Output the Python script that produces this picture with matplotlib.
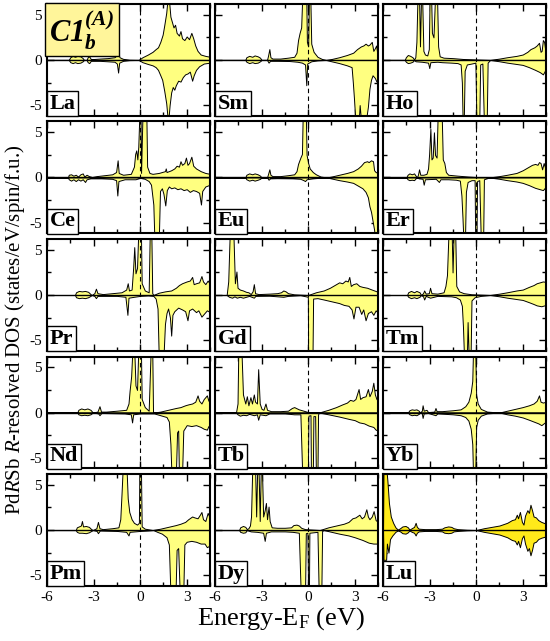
import matplotlib
matplotlib.use("Agg")
import matplotlib.pyplot as plt
from matplotlib.ticker import MultipleLocator

plt.rcParams["font.family"] = ["Liberation Serif", "DejaVu Serif"]
plt.rcParams["mathtext.fontset"] = "custom"
plt.rcParams["mathtext.rm"] = "Liberation Serif"
plt.rcParams["mathtext.it"] = "Liberation Serif:italic"
plt.rcParams["mathtext.bf"] = "Liberation Serif:bold:italic"
plt.rcParams["axes.unicode_minus"] = False

# (energy in eV, DOS) break points; up = spin up, dn = spin down
LA_UP = [(-6.0, 0), (-4.6, 0), (-4.5, 0.3), (-4.35, 0.45), (-4.2, 0.35), (-4.05, 0.45), (-3.85, 0.4), (-3.7, 0.2), (-3.62, 0), (-3.45, 0), (-3.38, 0.3), (-3.28, 0.4), (-3.18, 0.1), (-3.0, 0.1), (-2.6, 0.15), (-2.1, 0.2), (-1.65, 0.3), (-1.5, 0.55), (-1.42, 0.9), (-1.33, 0.3), (-1.1, 0.12), (-0.7, 0.02), (-0.1, 0), (0.15, 0.3), (0.5, 0.6), (0.8, 0.9), (1.0, 1.2), (1.15, 1.4), (1.3, 2.0), (1.45, 2.8), (1.55, 3.8), (1.68, 5.2), (1.78, 7.0), (1.88, 6.2), (1.95, 4.8), (2.05, 4.2), (2.15, 3.6), (2.25, 3.9), (2.35, 3.0), (2.5, 2.7), (2.6, 3.2), (2.7, 2.4), (2.85, 2.2), (3.0, 2.6), (3.15, 2.3), (3.3, 3.0), (3.42, 2.4), (3.55, 1.6), (3.7, 1.0), (3.9, 0.6), (4.2, 0.45), (4.5, 0.35)]
LA_DN = [(-6.0, 0), (-4.6, 0), (-4.5, -0.25), (-4.35, -0.35), (-4.2, -0.25), (-4.05, -0.35), (-3.85, -0.3), (-3.7, -0.15), (-3.62, 0), (-3.45, 0), (-3.38, -0.25), (-3.28, -0.35), (-3.18, -0.1), (-3.0, -0.1), (-2.6, -0.1), (-2.1, -0.15), (-1.65, -0.2), (-1.5, -0.4), (-1.42, -1.4), (-1.35, -0.3), (-1.1, -0.1), (-0.7, -0.02), (-0.1, 0), (0.15, -0.25), (0.5, -0.45), (0.8, -0.6), (1.0, -0.8), (1.15, -1.1), (1.3, -1.7), (1.42, -2.2), (1.55, -3.4), (1.68, -4.8), (1.8, -7.0), (1.9, -5.0), (2.0, -3.6), (2.1, -3.0), (2.2, -3.3), (2.3, -2.8), (2.45, -2.3), (2.6, -2.4), (2.75, -1.9), (2.9, -1.6), (3.05, -1.5), (3.2, -1.3), (3.35, -2.3), (3.45, -1.7), (3.6, -1.1), (3.8, -0.7), (4.1, -0.4), (4.5, -0.3)]

SM_UP = [(-6, 0), (-4.05, 0), (-3.98, 0.3), (-3.8, 0.45), (-3.6, 0.35), (-3.45, 0.5), (-3.25, 0.4), (-3.1, 0.25), (-3.0, 0), (-2.65, 0), (-2.58, 0.5), (-2.5, 1.2), (-2.43, 0.3), (-2.3, 0.15), (-1.8, 0.15), (-1.3, 0.25), (-0.9, 0.35), (-0.75, 0.8), (-0.65, 2.2), (-0.55, 3.0), (-0.45, 3.6), (-0.38, 7), (-0.12, 7), (-0.08, 2.0), (0.0, 1.5), (0.05, 7), (0.14, 7), (0.2, 1.8), (0.35, 0.9), (0.6, 0.35), (0.9, 0.1), (1.15, 0), (1.5, 0.1), (2.0, 0.3), (2.5, 0.55), (2.9, 0.8), (3.15, 1.2), (3.4, 1.5), (3.55, 1.6), (3.7, 1.8), (3.85, 1.6), (3.95, 1.7), (4.1, 2.0), (4.2, 1.0), (4.3, 1.3), (4.38, 1.6), (4.45, 0.8), (4.5, 0.6)]
SM_DN = [(-6, 0), (-4.05, 0), (-3.98, -0.2), (-3.8, -0.35), (-3.6, -0.25), (-3.45, -0.35), (-3.25, -0.3), (-3.1, -0.15), (-3.0, 0), (-2.65, 0), (-2.55, -0.3), (-2.45, -0.1), (-2.0, -0.1), (-1.2, -0.12), (-0.7, -0.2), (-0.4, -0.3), (-0.2, -0.5), (-0.12, -2.8), (-0.06, -0.4), (0.2, -0.15), (0.6, -0.05), (1.15, 0), (1.5, -0.15), (2.0, -0.35), (2.5, -0.6), (2.8, -0.8), (2.88, -2.5), (2.95, -4.2), (3.05, -7), (3.25, -7), (3.32, -5.0), (3.42, -7), (3.7, -7), (3.85, -5.2), (3.95, -3.2), (4.05, -2.2), (4.15, -1.7), (4.3, -2.0), (4.4, -2.4), (4.5, -1.9)]

HO_UP = [(-6, 0), (-4.6, 0), (-4.53, 0.3), (-4.4, 0.55), (-4.25, 0.45), (-4.1, 0.3), (-4.0, 0.05), (-3.92, 0.3), (-3.85, 2.0), (-3.78, 7), (-3.68, 7), (-3.62, 1.5), (-3.55, 7), (-3.48, 7), (-3.4, 1.0), (-3.3, 0.6), (-3.15, 0.5), (-3.05, 1.2), (-3.0, 7), (-2.9, 7), (-2.85, 3.0), (-2.75, 2.5), (-2.65, 7), (-2.52, 7), (-2.45, 1.5), (-2.35, 0.4), (-2.1, 0.25), (-1.5, 0.2), (-0.8, 0.1), (0.0, 0.05), (0.9, 0), (1.5, 0.15), (2.0, 0.3), (2.6, 0.45), (3.0, 0.6), (3.3, 0.9), (3.5, 1.2), (3.75, 1.4), (3.9, 1.6), (4.05, 1.9), (4.15, 0.9), (4.22, 1.0), (4.3, 2.2), (4.38, 2.0), (4.45, 1.1), (4.5, 0.9)]
HO_DN = [(-6, 0), (-4.6, 0), (-4.53, -0.2), (-4.4, -0.35), (-4.25, -0.3), (-4.1, -0.2), (-4.0, 0), (-3.9, -0.15), (-3.5, -0.2), (-3.1, -0.3), (-3.02, -0.9), (-2.95, -0.25), (-2.5, -0.2), (-2.2, -0.25), (-1.6, -0.3), (-1.2, -0.35), (-1.0, -0.5), (-0.92, -2.5), (-0.87, -7), (-0.8, -7), (-0.74, -1.2), (-0.6, -0.5), (-0.3, -0.4), (-0.05, -0.3), (0.02, -7), (0.2, -7), (0.26, -0.5), (0.4, -0.4), (0.5, -7), (0.68, -7), (0.74, -0.3), (0.9, 0), (1.5, -0.15), (2.0, -0.3), (2.6, -0.45), (3.0, -0.55), (3.4, -0.8), (3.8, -1.1), (4.1, -1.35), (4.3, -1.6), (4.4, -1.3), (4.5, -0.9)]

CE_UP = [(-6, 0), (-4.65, 0), (-4.6, 0.3), (-4.45, 0.35), (-4.3, 0.2), (-4.15, 0.3), (-4.0, 0.1), (-3.85, 0.35), (-3.7, 0.45), (-3.6, 0.1), (-3.45, 0.3), (-3.3, 0.15), (-3.1, 0.05), (-2.8, 0.15), (-2.3, 0.25), (-1.8, 0.35), (-1.55, 0.6), (-1.45, 1.9), (-1.38, 0.5), (-1.1, 0.3), (-0.6, 0.4), (-0.4, 1.2), (-0.32, 2.6), (-0.25, 3.0), (-0.18, 2.0), (-0.12, 3.4), (-0.05, 7), (0.02, 7), (0.06, 0.5), (0.15, 7), (0.4, 7), (0.45, 1.2), (0.6, 0.5), (0.8, 0.4), (1.2, 0.5), (1.6, 0.7), (1.65, 1.0), (1.7, 0.6), (2.0, 0.8), (2.2, 1.0), (2.35, 1.3), (2.5, 1.2), (2.6, 1.8), (2.7, 1.4), (2.85, 1.6), (2.95, 2.2), (3.05, 1.4), (3.15, 1.6), (3.3, 2.3), (3.42, 1.3), (3.6, 1.0), (3.9, 0.7), (4.2, 0.5), (4.5, 0.4)]
CE_DN = [(-6, 0), (-4.65, 0), (-4.6, -0.2), (-4.45, -0.35), (-4.3, -0.2), (-4.15, -0.4), (-4.0, -0.2), (-3.85, -0.35), (-3.7, -0.2), (-3.55, -0.5), (-3.45, -0.2), (-3.2, -0.1), (-2.5, -0.1), (-1.8, -0.15), (-1.55, -0.3), (-1.47, -2.0), (-1.4, -0.4), (-1.0, -0.2), (-0.3, -0.2), (0.0, -0.05), (0.3, -0.15), (0.55, -0.4), (0.7, -0.8), (0.85, -3.0), (0.92, -7), (1.2, -7), (1.28, -1.5), (1.4, -1.2), (1.5, -1.8), (1.62, -3.1), (1.72, -1.4), (1.85, -1.0), (2.0, -1.2), (2.2, -1.1), (2.4, -1.3), (2.6, -1.2), (2.8, -1.4), (3.0, -1.3), (3.2, -1.6), (3.4, -1.4), (3.6, -1.5), (3.8, -1.7), (3.92, -3.0), (4.0, -1.5), (4.2, -1.0), (4.5, -0.8)]

EU_UP = [(-6, 0), (-4.05, 0), (-3.98, 0.3), (-3.8, 0.45), (-3.6, 0.35), (-3.45, 0.45), (-3.25, 0.35), (-3.1, 0.2), (-3.0, 0), (-2.65, 0), (-2.58, 0.4), (-2.5, 0.9), (-2.43, 0.3), (-2.3, 0.15), (-1.8, 0.15), (-1.3, 0.25), (-0.9, 0.35), (-0.75, 0.7), (-0.65, 1.5), (-0.5, 2.2), (-0.4, 2.6), (-0.35, 7), (-0.15, 7), (-0.1, 2.5), (0.0, 1.6), (0.1, 1.0), (0.3, 0.6), (0.5, 0.35), (0.8, 0.1), (1.2, 0), (1.5, 0.1), (2.0, 0.3), (2.5, 0.5), (2.9, 0.7), (3.2, 1.0), (3.4, 1.3), (3.6, 1.7), (3.8, 1.8), (3.9, 1.7), (4.05, 1.9), (4.18, 1.8), (4.25, 0.8), (4.35, 0.6), (4.5, 0.5)]
EU_DN = [(-6, 0), (-4.05, 0), (-3.98, -0.2), (-3.8, -0.35), (-3.6, -0.25), (-3.45, -0.35), (-3.25, -0.25), (-3.1, -0.15), (-3.0, 0), (-2.65, 0), (-2.55, -0.25), (-2.45, -0.1), (-2.0, -0.08), (-1.0, -0.1), (-0.5, -0.15), (-0.3, -0.3), (-0.2, -0.4), (-0.1, -0.2), (0.3, -0.1), (0.8, -0.03), (1.2, 0), (1.6, -0.15), (2.0, -0.3), (2.5, -0.45), (2.9, -0.6), (3.2, -0.9), (3.5, -1.2), (3.7, -1.6), (3.85, -2.2), (3.95, -3.2), (4.05, -3.8), (4.15, -4.8), (4.25, -5.8), (4.32, -7), (4.5, -7)]

ER_UP = [(-6, 0), (-4.5, 0), (-4.42, 0.3), (-4.3, 0.45), (-4.15, 0.35), (-4.0, 0.45), (-3.9, 0.2), (-3.82, 0), (-3.75, 0.3), (-3.68, 0.9), (-3.6, 0.3), (-3.4, 0.3), (-3.2, 0.4), (-3.1, 1.0), (-3.03, 2.6), (-2.95, 5.4), (-2.88, 2.0), (-2.8, 2.2), (-2.72, 5.0), (-2.65, 2.5), (-2.55, 2.2), (-2.48, 7), (-2.22, 7), (-2.15, 2.0), (-2.05, 1.6), (-1.95, 0.6), (-1.8, 0.3), (-1.2, 0.2), (-0.5, 0.1), (0.0, 0.05), (0.85, 0), (1.5, 0.15), (2.0, 0.3), (2.6, 0.5), (3.0, 0.8), (3.4, 1.2), (3.6, 1.4), (3.8, 1.5), (3.95, 1.4), (4.05, 1.7), (4.15, 1.6), (4.25, 0.9), (4.35, 1.6), (4.42, 1.2), (4.5, 1.0)]
ER_DN = [(-6, 0), (-4.5, 0), (-4.42, -0.2), (-4.3, -0.3), (-4.15, -0.25), (-4.0, -0.3), (-3.9, -0.1), (-3.82, 0), (-3.7, -0.1), (-3.45, -0.15), (-3.38, -0.8), (-3.3, -0.2), (-2.6, -0.15), (-2.4, -0.5), (-2.3, -0.2), (-1.8, -0.2), (-1.3, -0.25), (-1.05, -0.35), (-0.95, -2.0), (-0.88, -4.5), (-0.82, -7), (-0.72, -7), (-0.66, -1.6), (-0.55, -0.5), (-0.3, -0.3), (-0.1, -0.3), (-0.06, -7), (0.02, -7), (0.06, -0.4), (0.2, -0.3), (0.3, -7), (0.45, -7), (0.5, -0.2), (0.85, 0), (1.5, -0.15), (2.0, -0.3), (2.6, -0.45), (3.0, -0.6), (3.4, -0.85), (3.8, -1.15), (4.1, -1.3), (4.3, -1.4), (4.5, -1.0)]

PR_UP = [(-6, 0), (-4.2, 0), (-4.13, 0.3), (-3.95, 0.45), (-3.75, 0.4), (-3.55, 0.45), (-3.35, 0.35), (-3.2, 0.1), (-3.12, 0), (-2.95, 0.2), (-2.85, 0.7), (-2.75, 0.2), (-2.4, 0.1), (-1.8, 0.2), (-1.2, 0.3), (-0.9, 0.6), (-0.8, 1.3), (-0.72, 0.5), (-0.55, 0.6), (-0.45, 3.0), (-0.38, 5.3), (-0.3, 2.4), (-0.2, 3.0), (-0.12, 7), (0.05, 7), (0.1, 1.3), (0.3, 0.5), (0.55, 0.3), (0.62, 7), (0.72, 7), (0.78, 0.2), (0.85, 0), (1.2, 0.25), (1.6, 0.4), (2.0, 0.5), (2.3, 0.8), (2.5, 1.1), (2.7, 1.3), (2.85, 1.4), (3.0, 1.5), (3.2, 1.6), (3.35, 2.0), (3.45, 1.2), (3.6, 1.3), (3.8, 1.4), (3.95, 2.1), (4.05, 1.5), (4.2, 1.2), (4.35, 1.6), (4.5, 1.2)]
PR_DN = [(-6, 0), (-4.2, 0), (-4.13, -0.25), (-3.95, -0.35), (-3.75, -0.3), (-3.55, -0.35), (-3.35, -0.25), (-3.2, -0.1), (-3.12, 0), (-2.95, -0.1), (-2.85, -0.35), (-2.75, -0.1), (-1.5, -0.1), (-0.95, -0.2), (-0.82, -2.2), (-0.75, -0.3), (-0.4, -0.2), (0.0, -0.1), (0.5, -0.05), (0.85, -0.1), (1.0, -0.4), (1.12, -1.5), (1.2, -7), (1.5, -7), (1.6, -3.2), (1.7, -2.0), (1.8, -1.5), (1.92, -2.5), (2.0, -4.5), (2.08, -2.2), (2.2, -1.8), (2.45, -1.4), (2.7, -1.6), (2.9, -1.8), (3.05, -2.8), (3.15, -1.7), (3.35, -1.5), (3.6, -1.9), (3.75, -1.7), (3.95, -2.4), (4.15, -2.0), (4.3, -1.7), (4.5, -1.9)]

GD_UP = [(-6, 0), (-5.25, 0), (-5.15, 1.5), (-5.05, 7), (-4.82, 7), (-4.72, 1.3), (-4.62, 2.6), (-4.55, 0.8), (-4.4, 0.6), (-4.2, 0.5), (-4.0, 0.35), (-3.85, 0.3), (-3.7, 0.1), (-3.58, 0.4), (-3.5, 1.2), (-3.42, 0.2), (-3.2, 0.1), (-2.5, 0.15), (-2.0, 0.2), (-1.75, 0.3), (-1.6, 0.5), (-1.45, 0.4), (-1.3, 0.2), (-0.9, 0.07), (-0.3, 0.02), (0.0, 0), (0.5, 0.3), (1.0, 0.5), (1.4, 0.8), (1.7, 1.1), (2.0, 1.4), (2.2, 1.3), (2.4, 1.6), (2.55, 1.5), (2.65, 2.0), (2.75, 1.0), (2.9, 1.2), (3.1, 1.3), (3.3, 1.0), (3.5, 0.9), (3.8, 0.8), (4.1, 0.6), (4.5, 0.35)]
GD_DN = [(-6, 0), (-5.25, 0), (-5.1, -0.2), (-4.9, -0.3), (-4.75, -0.15), (-4.6, -0.3), (-4.4, -0.2), (-4.2, -0.3), (-4.0, -0.2), (-3.8, -0.1), (-3.5, -0.3), (-3.4, -0.1), (-2.5, -0.08), (-1.6, -0.2), (-1.3, -0.1), (-0.5, -0.02), (-0.02, -0.2), (0.0, -7), (0.28, -7), (0.32, -0.4), (0.6, -0.35), (1.0, -0.5), (1.5, -0.7), (2.0, -0.9), (2.3, -1.1), (2.6, -1.2), (2.8, -1.6), (2.92, -2.6), (3.05, -1.3), (3.25, -1.3), (3.42, -2.1), (3.55, -1.6), (3.7, -2.8), (3.85, -2.0), (4.05, -1.8), (4.2, -2.2), (4.35, -1.7), (4.5, -2.0)]

TM_UP = [(-6, 0), (-4.45, 0), (-4.38, 0.3), (-4.2, 0.45), (-4.0, 0.3), (-3.85, 0.45), (-3.65, 0.3), (-3.55, 0), (-3.42, 0.2), (-3.35, 0.5), (-3.25, 0.15), (-3.05, 0.2), (-2.97, 0.8), (-2.88, 0.2), (-2.5, 0.15), (-2.1, 0.3), (-1.98, 1.0), (-1.88, 2.2), (-1.78, 7), (-1.58, 7), (-1.52, 2.5), (-1.45, 7), (-1.35, 7), (-1.28, 1.0), (-1.1, 0.4), (-0.8, 0.2), (-0.3, 0.08), (0.9, 0), (1.5, 0.15), (2.0, 0.3), (2.6, 0.5), (3.0, 0.6), (3.4, 0.9), (3.7, 1.1), (3.9, 1.3), (4.1, 1.4), (4.3, 1.5), (4.5, 1.45)]
TM_DN = [(-6, 0), (-4.45, 0), (-4.38, -0.2), (-4.2, -0.35), (-4.0, -0.25), (-3.85, -0.35), (-3.65, -0.2), (-3.55, 0), (-3.42, -0.15), (-3.35, -0.5), (-3.25, -0.1), (-2.97, -0.3), (-2.5, -0.1), (-1.6, -0.15), (-1.3, -0.25), (-1.05, -0.5), (-0.92, -1.2), (-0.85, -3.5), (-0.78, -7), (-0.6, -7), (-0.55, -3.0), (-0.48, -7), (-0.36, -7), (-0.3, -0.6), (-0.1, -0.25), (0.3, -0.1), (0.9, 0), (1.5, -0.15), (2.0, -0.3), (2.6, -0.45), (3.0, -0.55), (3.4, -0.8), (3.7, -1.0), (3.9, -1.15), (4.2, -1.25), (4.5, -1.1)]

ND_UP = [(-6, 0), (-4.05, 0), (-3.98, 0.3), (-3.8, 0.45), (-3.6, 0.35), (-3.4, 0.45), (-3.2, 0.3), (-3.05, 0), (-2.75, 0.1), (-2.62, 0.7), (-2.52, 0.1), (-2.2, 0.1), (-1.5, 0.2), (-0.9, 0.3), (-0.75, 1.0), (-0.68, 2.4), (-0.58, 4.0), (-0.5, 7), (-0.38, 7), (-0.3, 3.0), (-0.2, 2.5), (-0.12, 7), (0.05, 7), (0.1, 1.5), (0.3, 0.6), (0.55, 0.2), (0.68, 7), (0.78, 7), (0.83, 0.1), (0.9, 0), (1.3, 0.1), (1.8, 0.3), (2.3, 0.5), (2.6, 0.6), (2.9, 0.8), (3.1, 0.9), (3.35, 1.0), (3.55, 1.2), (3.7, 1.9), (3.8, 1.3), (3.95, 1.0), (4.1, 1.5), (4.3, 1.9), (4.4, 1.3), (4.5, 1.6)]
ND_DN = [(-6, 0), (-4.05, 0), (-3.98, -0.2), (-3.8, -0.3), (-3.6, -0.25), (-3.4, -0.3), (-3.2, -0.2), (-3.05, 0), (-2.7, -0.1), (-2.62, -0.3), (-2.5, -0.05), (-1.0, -0.1), (-0.6, -0.2), (-0.52, -1.1), (-0.45, -0.2), (0.0, -0.1), (0.9, -0.1), (1.3, -0.3), (1.7, -0.5), (1.85, -1.0), (1.95, -3.5), (2.02, -7), (2.3, -7), (2.38, -2.2), (2.45, -2.0), (2.5, -7), (2.7, -7), (2.78, -2.0), (3.0, -1.4), (3.3, -1.5), (3.6, -1.4), (3.9, -1.6), (4.1, -1.8), (4.3, -1.9), (4.4, -1.5), (4.5, -1.7)]

TB_UP = [(-6, 0), (-4.65, 0), (-4.55, 1.0), (-4.5, 7), (-4.3, 7), (-4.2, 2.0), (-4.05, 1.0), (-3.95, 1.8), (-3.85, 0.8), (-3.72, 1.7), (-3.62, 1.0), (-3.5, 2.0), (-3.42, 1.2), (-3.3, 1.0), (-3.22, 4.8), (-3.12, 1.0), (-3.0, 0.4), (-2.88, 0.3), (-2.75, 1.0), (-2.65, 0.3), (-2.4, 0.15), (-1.8, 0.15), (-1.3, 0.2), (-1.05, 0.5), (-0.9, 0.6), (-0.6, 0.35), (-0.3, 0.2), (0.0, 0.05), (0.7, 0), (1.3, 0.3), (1.8, 0.6), (2.2, 0.9), (2.5, 1.1), (2.7, 1.4), (2.9, 1.3), (3.05, 1.5), (3.25, 2.6), (3.35, 1.5), (3.5, 1.7), (3.7, 1.8), (3.85, 2.6), (3.95, 1.8), (4.1, 2.4), (4.2, 3.3), (4.3, 2.0), (4.4, 1.5), (4.5, 1.3)]
TB_DN = [(-6, 0), (-4.65, 0), (-4.55, -0.2), (-4.4, -0.35), (-4.2, -0.25), (-4.0, -0.3), (-3.8, -0.15), (-3.5, -0.3), (-3.3, -0.2), (-3.22, -0.8), (-3.12, -0.2), (-2.75, -0.3), (-2.5, -0.1), (-1.5, -0.1), (-0.9, -0.2), (-0.5, -0.2), (-0.38, -7), (-0.02, -7), (0.02, -0.35), (0.15, -0.3), (0.18, -7), (0.3, -7), (0.34, -0.4), (0.45, -0.4), (0.5, -7), (0.6, -7), (0.64, -0.2), (0.7, 0), (1.3, -0.2), (2.0, -0.45), (2.6, -0.7), (3.0, -0.85), (3.3, -1.1), (3.6, -1.2), (3.9, -1.45), (4.2, -1.6), (4.35, -1.9), (4.5, -2.0)]

YB_UP = [(-6, 0), (-4.4, 0), (-4.3, 0.25), (-4.15, 0.35), (-4.0, 0.3), (-3.85, 0.35), (-3.7, 0.2), (-3.62, 0), (-3.5, 0.2), (-3.45, 0.8), (-3.38, 0.2), (-3.2, 0.3), (-3.1, 0.05), (-2.7, 0.1), (-2.62, 0.5), (-2.55, 0.15), (-2.2, 0.15), (-1.5, 0.25), (-1.0, 0.35), (-0.7, 0.7), (-0.5, 1.2), (-0.35, 2.2), (-0.25, 3.5), (-0.2, 7), (-0.06, 7), (0.0, 2.0), (0.1, 1.0), (0.3, 0.4), (0.7, 0.1), (1.5, 0), (2.0, 0.2), (2.5, 0.4), (3.0, 0.6), (3.4, 0.8), (3.7, 1.0), (3.9, 1.3), (4.05, 1.9), (4.15, 1.2), (4.3, 1.1), (4.5, 1.2)]
YB_DN = [(-6, 0), (-4.4, 0), (-4.3, -0.2), (-4.15, -0.3), (-4.0, -0.25), (-3.85, -0.3), (-3.7, -0.15), (-3.62, 0), (-3.5, -0.1), (-3.45, -0.6), (-3.38, -0.1), (-3.1, -0.05), (-2.62, -0.3), (-2.5, -0.1), (-1.5, -0.2), (-1.0, -0.3), (-0.7, -0.5), (-0.5, -0.9), (-0.35, -1.8), (-0.25, -3.5), (-0.2, -7), (-0.06, -7), (0.0, -1.6), (0.1, -0.8), (0.3, -0.35), (0.7, -0.1), (1.5, 0), (2.0, -0.2), (2.5, -0.35), (3.0, -0.55), (3.4, -0.8), (3.7, -1.0), (4.0, -1.2), (4.2, -1.4), (4.35, -1.2), (4.5, -1.0)]

PM_UP = [(-6, 0), (-4.15, 0), (-4.08, 0.3), (-3.95, 0.4), (-3.82, 0.5), (-3.75, 1.0), (-3.68, 0.4), (-3.5, 0.45), (-3.3, 0.35), (-3.15, 0.1), (-3.05, 0), (-2.82, 0.2), (-2.72, 0.9), (-2.62, 0.2), (-2.4, 0.1), (-1.8, 0.2), (-1.4, 0.3), (-1.28, 1.2), (-1.2, 4.0), (-1.12, 7), (-0.88, 7), (-0.8, 3.5), (-0.7, 2.0), (-0.55, 1.2), (-0.4, 0.8), (-0.2, 0.6), (-0.08, 0.8), (-0.05, 7), (0.05, 7), (0.1, 0.4), (0.3, 0.15), (0.8, 0), (1.3, 0.15), (1.8, 0.35), (2.3, 0.55), (2.6, 0.7), (2.9, 0.9), (3.1, 1.2), (3.35, 1.5), (3.5, 1.4), (3.7, 1.3), (3.85, 1.7), (3.95, 2.0), (4.05, 1.2), (4.2, 1.0), (4.35, 1.9), (4.45, 1.5), (4.5, 1.3)]
PM_DN = [(-6, 0), (-4.15, 0), (-4.08, -0.2), (-3.95, -0.3), (-3.75, -0.3), (-3.5, -0.35), (-3.3, -0.25), (-3.15, -0.1), (-3.05, 0), (-2.8, -0.1), (-2.72, -0.35), (-2.6, -0.05), (-1.5, -0.1), (-0.9, -0.2), (-0.75, -0.6), (-0.68, -0.2), (0.0, -0.1), (0.5, -0.05), (0.85, 0), (1.1, -0.2), (1.4, -0.4), (1.7, -0.8), (1.85, -1.6), (1.95, -7), (2.28, -7), (2.35, -2.2), (2.45, -2.0), (2.55, -7), (2.78, -7), (2.85, -1.6), (3.0, -1.3), (3.3, -1.2), (3.6, -1.3), (3.9, -1.5), (4.15, -1.5), (4.3, -1.9), (4.5, -1.7)]

DY_UP = [(-6, 0), (-4.45, 0), (-4.38, 0.3), (-4.2, 0.45), (-4.05, 0.35), (-3.95, 0.1), (-3.85, 0.2), (-3.75, 0.5), (-3.68, 1.5), (-3.6, 7), (-3.42, 7), (-3.35, 1.5), (-3.28, 7), (-3.2, 7), (-3.12, 1.0), (-3.05, 7), (-2.98, 7), (-2.9, 1.5), (-2.8, 2.2), (-2.72, 3.0), (-2.65, 1.2), (-2.55, 2.6), (-2.48, 1.0), (-2.35, 0.3), (-2.0, 0.25), (-1.5, 0.25), (-1.1, 0.3), (-0.95, 0.55), (-0.75, 0.6), (-0.6, 0.5), (-0.45, 0.25), (-0.2, 0.1), (0.75, 0), (1.3, 0.3), (1.8, 0.5), (2.3, 0.7), (2.6, 0.9), (2.85, 1.3), (3.05, 1.4), (3.3, 1.7), (3.45, 1.3), (3.6, 1.5), (3.75, 2.3), (3.85, 1.5), (3.95, 1.2), (4.1, 1.5), (4.22, 2.1), (4.35, 1.1), (4.5, 0.9)]
DY_DN = [(-6, 0), (-4.45, 0), (-4.38, -0.2), (-4.2, -0.3), (-4.05, -0.25), (-3.95, 0), (-3.7, -0.15), (-3.3, -0.2), (-2.9, -0.3), (-2.8, -1.2), (-2.72, -0.3), (-2.4, -0.15), (-1.5, -0.15), (-1.0, -0.2), (-0.6, -0.3), (-0.48, -7), (-0.2, -7), (-0.15, -0.35), (-0.05, -0.3), (0.0, -7), (0.05, -7), (0.08, -0.3), (0.6, -0.2), (0.68, -7), (0.85, -7), (0.9, -0.1), (1.0, 0), (1.5, -0.2), (2.0, -0.4), (2.6, -0.6), (3.0, -0.8), (3.5, -1.1), (3.9, -1.4), (4.2, -1.5), (4.5, -1.5)]

LU_UP = [(-6, 0), (-5.97, 7), (-5.8, 7), (-5.72, 5.5), (-5.62, 3.0), (-5.5, 1.5), (-5.35, 0.8), (-5.2, 0.3), (-5.05, 0.05), (-4.9, 0.2), (-4.75, 0.4), (-4.55, 0.45), (-4.4, 0.3), (-4.3, 0.05), (-4.15, 0.2), (-4.0, 0.35), (-3.9, 0.8), (-3.82, 0.35), (-3.7, 0.15), (-3.3, 0.1), (-2.6, 0.1), (-2.2, 0.15), (-2.05, 0.3), (-1.8, 0.4), (-1.6, 0.35), (-1.45, 0.2), (-1.2, 0.1), (-0.6, 0.03), (0.0, 0), (0.5, 0.2), (1.0, 0.35), (1.5, 0.5), (2.0, 0.8), (2.3, 1.1), (2.5, 1.2), (2.62, 1.7), (2.7, 1.3), (2.82, 2.0), (2.95, 0.9), (3.05, 0.6), (3.15, 1.6), (3.3, 2.2), (3.4, 1.9), (3.5, 2.8), (3.6, 2.2), (3.7, 1.5), (3.85, 1.4), (4.0, 1.1), (4.2, 0.9), (4.5, 0.7)]
LU_DN = [(-6, 0), (-5.97, -3.3), (-5.8, -3.3), (-5.75, -1.5), (-5.65, -2.5), (-5.55, -1.0), (-5.4, -0.6), (-5.2, -0.2), (-5.05, -0.05), (-4.9, -0.15), (-4.75, -0.35), (-4.55, -0.4), (-4.4, -0.25), (-4.3, -0.05), (-4.15, -0.2), (-4.0, -0.3), (-3.9, -0.6), (-3.82, -0.3), (-3.7, -0.15), (-3.3, -0.1), (-2.6, -0.1), (-2.2, -0.15), (-2.05, -0.3), (-1.8, -0.35), (-1.6, -0.3), (-1.45, -0.15), (-1.2, -0.1), (-0.6, -0.03), (0.0, 0), (0.5, -0.2), (1.0, -0.35), (1.5, -0.5), (2.0, -0.8), (2.3, -1.1), (2.5, -1.2), (2.62, -1.6), (2.7, -1.2), (2.82, -1.9), (2.95, -0.9), (3.05, -0.6), (3.15, -1.5), (3.3, -2.3), (3.4, -2.0), (3.5, -2.8), (3.6, -2.2), (3.7, -1.4), (3.85, -1.3), (4.0, -1.0), (4.2, -0.85), (4.5, -0.7)]

PANELS = [
    ("La", LA_UP, LA_DN), ("Sm", SM_UP, SM_DN), ("Ho", HO_UP, HO_DN),
    ("Ce", CE_UP, CE_DN), ("Eu", EU_UP, EU_DN), ("Er", ER_UP, ER_DN),
    ("Pr", PR_UP, PR_DN), ("Gd", GD_UP, GD_DN), ("Tm", TM_UP, TM_DN),
    ("Nd", ND_UP, ND_DN), ("Tb", TB_UP, TB_DN), ("Yb", YB_UP, YB_DN),
    ("Pm", PM_UP, PM_DN), ("Dy", DY_UP, DY_DN), ("Lu", LU_UP, LU_DN),
]

FILL = "#ffff80"
FILL_LU = "#ffea1a"

fig, axes = plt.subplots(5, 3, figsize=(5.5, 6.41), dpi=100, sharex=True, sharey=True)
fig.subplots_adjust(left=0.0855, right=0.9927, top=0.9938, bottom=0.0858, wspace=0.031, hspace=0.05)

for ax, (name, up, dn) in zip(axes.flat, PANELS):
    color = FILL_LU if name == "Lu" else FILL
    for curve in (up, dn):
        e = [p[0] for p in curve]
        d = [p[1] for p in curve]
        ax.fill_between(e, 0, d, facecolor=color, edgecolor="black", linewidth=0.7, zorder=2)
    ax.axhline(0, color="black", lw=1.0, zorder=3)
    ax.axvline(0, color="black", lw=0.8, ls=(0, (4, 3)), zorder=3)
    ax.set_xlim(-6, 4.5)
    ax.set_ylim(-6.2, 6.2)
    ax.xaxis.set_major_locator(MultipleLocator(3))
    ax.xaxis.set_minor_locator(MultipleLocator(1.5))
    ax.yaxis.set_major_locator(MultipleLocator(5))
    ax.yaxis.set_minor_locator(MultipleLocator(2.5))
    ax.tick_params(which="both", direction="in", top=True, right=True, labelsize=11, width=1.0)
    ax.tick_params(which="major", length=5)
    ax.tick_params(which="minor", length=3)
    for s in ax.spines.values():
        s.set_linewidth(1.5)
    ax.text(0.015, 0.02, name, transform=ax.transAxes, ha="left", va="bottom",
            fontsize=16, fontweight="bold", zorder=5,
            bbox=dict(boxstyle="square,pad=0.12", fc="white", ec="black", lw=1.0))

axes[0, 0].text(0.015, 0.97, r"$\mathbf{C1_b^{(A)}}$", transform=axes[0, 0].transAxes,
                ha="left", va="top", fontsize=22, zorder=5,
                bbox=dict(boxstyle="square,pad=0.15", fc="#fff59a", ec="black", lw=1.0))

fig.text(0.027, 0.485, r"Pd$\mathit{R}$Sb $\mathit{R}$-resolved DOS (states/eV/spin/f.u.)",
         rotation=90, ha="center", va="center", fontsize=15)
fig.text(0.51, 0.035, r"Energy-E$_\mathrm{F}$ (eV)", ha="center", va="center", fontsize=19)

fig.savefig("out.png", dpi=100)
